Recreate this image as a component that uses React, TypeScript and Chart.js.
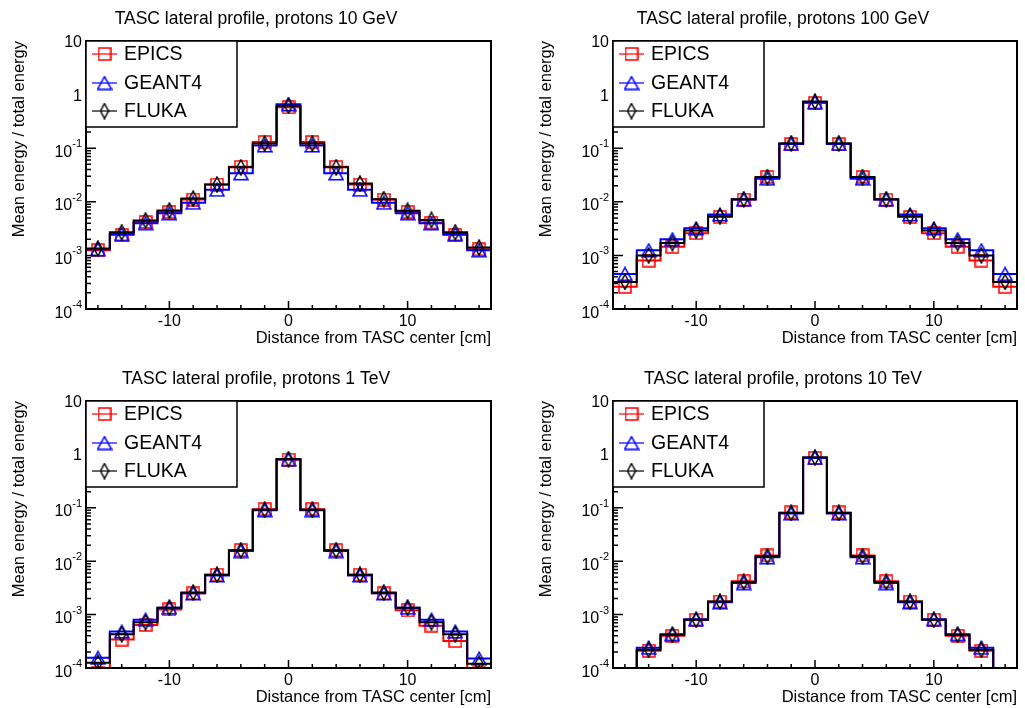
import React, { useEffect, useRef } from "react";
import { Chart, registerables } from "chart.js";
Chart.register(...registerables);

// ---------------- data ----------------
const BIN_CENTERS = [-16, -14, -12, -10, -8, -6, -4, -2, 0, 2, 4, 6, 8, 10, 12, 14, 16];
const BIN_HALF_WIDTH = 1;
const X_MIN = -17;
const X_MAX = 17;
const Y_MIN = 1e-4;
const Y_MAX = 10;
const X_MAJOR_TICKS = [-10, 0, 10];
const X_MINOR_TICKS = [-16, -14, -12, -8, -6, -4, -2, 2, 4, 6, 8, 12, 14, 16];
const X_TICK_LABELS = ["-10", "0", "10"];
const Y_DECADES = [1e-4, 1e-3, 1e-2, 1e-1, 1, 10];
const Y_TICK_BASES = ["10", "10", "10", "10", "1", "10"];
const Y_TICK_EXPS = ["-4", "-3", "-2", "-1", "", ""];
const SERIES_NAMES = ["EPICS", "GEANT4", "FLUKA"];
const SERIES_COLORS = ["#ff0000", "#0000ff", "#000000"];
const TITLES = [
  "TASC lateral profile, protons 10 GeV",
  "TASC lateral profile, protons 100 GeV",
  "TASC lateral profile, protons 1 TeV",
  "TASC lateral profile, protons 10 TeV",
];
const X_TITLE = "Distance from TASC center [cm]";
const Y_TITLE = "Mean energy / total energy";

// 10 GeV
const P1_EPICS = [1.25e-3, 2.4e-3, 4.2e-3, 6.5e-3, 0.011, 0.021, 0.045, 0.13, 0.58, 0.13, 0.045, 0.021, 0.011, 6.5e-3, 4.1e-3, 2.4e-3, 1.3e-3];
const P1_GEANT4 = [1.3e-3, 2.5e-3, 4.0e-3, 6.1e-3, 9.6e-3, 0.0168, 0.034, 0.112, 0.66, 0.112, 0.034, 0.0168, 9.6e-3, 6.1e-3, 4.0e-3, 2.5e-3, 1.25e-3];
const P1_FLUKA = [1.35e-3, 2.7e-3, 4.5e-3, 6.9e-3, 0.0115, 0.021, 0.044, 0.122, 0.62, 0.122, 0.044, 0.022, 0.0112, 6.8e-3, 4.6e-3, 2.7e-3, 1.4e-3];
// 100 GeV
const P2_EPICS = [2.6e-4, 8.0e-4, 1.45e-3, 2.6e-3, 5.2e-3, 0.011, 0.029, 0.12, 0.7, 0.12, 0.029, 0.011, 5.2e-3, 2.6e-3, 1.45e-3, 8.0e-4, 2.6e-4];
const P2_GEANT4 = [4.5e-4, 1.25e-3, 2.0e-3, 3.2e-3, 5.8e-3, 0.011, 0.027, 0.12, 0.72, 0.12, 0.027, 0.011, 5.8e-3, 3.2e-3, 2.0e-3, 1.25e-3, 4.5e-4];
const P2_FLUKA = [3.2e-4, 1.0e-3, 1.7e-3, 2.9e-3, 5.4e-3, 0.0112, 0.029, 0.124, 0.74, 0.124, 0.029, 0.0112, 5.4e-3, 2.9e-3, 1.7e-3, 1.0e-3, 3.2e-4];
// 1 TeV
const P3_EPICS = [8.0e-5, 3.4e-4, 6.4e-4, 1.25e-3, 2.5e-3, 5.6e-3, 0.016, 0.094, 0.8, 0.094, 0.016, 5.6e-3, 2.5e-3, 1.2e-3, 6.2e-4, 3.2e-4, 8.0e-5];
const P3_GEANT4 = [1.55e-4, 4.8e-4, 8.0e-4, 1.35e-3, 2.5e-3, 5.4e-3, 0.0155, 0.09, 0.8, 0.09, 0.0155, 5.4e-3, 2.5e-3, 1.35e-3, 8.0e-4, 4.8e-4, 1.5e-4];
const P3_FLUKA = [1.25e-4, 4.3e-4, 7.2e-4, 1.35e-3, 2.6e-3, 5.6e-3, 0.016, 0.092, 0.82, 0.092, 0.016, 5.6e-3, 2.6e-3, 1.35e-3, 7.2e-4, 4.3e-4, 1.2e-4];
// 10 TeV
const P4_EPICS = [0, 2.1e-4, 4.0e-4, 8.0e-4, 1.75e-3, 4.2e-3, 0.0128, 0.082, 0.86, 0.082, 0.0128, 4.2e-3, 1.75e-3, 8.0e-4, 4.0e-4, 2.1e-4, 0];
const P4_GEANT4 = [0, 2.4e-4, 4.3e-4, 8.2e-4, 1.7e-3, 3.9e-3, 0.0118, 0.078, 0.86, 0.078, 0.0118, 3.9e-3, 1.7e-3, 8.2e-4, 4.3e-4, 2.4e-4, 0];
const P4_FLUKA = [0, 2.2e-4, 4.2e-4, 8.0e-4, 1.75e-3, 4.1e-3, 0.0124, 0.08, 0.88, 0.08, 0.0124, 4.1e-3, 1.75e-3, 8.0e-4, 4.2e-4, 2.2e-4, 0];

const PANEL_SERIES = [
  [P1_EPICS, P1_GEANT4, P1_FLUKA],
  [P2_EPICS, P2_GEANT4, P2_FLUKA],
  [P3_EPICS, P3_GEANT4, P3_FLUKA],
  [P4_EPICS, P4_GEANT4, P4_FLUKA],
];

// ---------------- layout ----------------
const PANEL_BOXES = [
  { left: 0, top: 0, w: 512, h: 354, pad: { left: 86, right: 21, top: 41, bottom: 45 } },
  { left: 527, top: 0, w: 498, h: 354, pad: { left: 86, right: 7, top: 41, bottom: 45 } },
  { left: 0, top: 360, w: 512, h: 348, pad: { left: 86, right: 21, top: 41, bottom: 40 } },
  { left: 527, top: 360, w: 498, h: 348, pad: { left: 86, right: 7, top: 41, bottom: 40 } },
];

const FONT = "'Liberation Sans', Arial, Helvetica, sans-serif";

// ---------------- markers ----------------
let markerCache: HTMLCanvasElement[] | null = null;
function getMarkers(): HTMLCanvasElement[] {
  if (markerCache) return markerCache;
  const mk = (w: number, h: number, color: string, draw: (c: CanvasRenderingContext2D) => void) => {
    const c = document.createElement("canvas");
    c.width = w;
    c.height = h;
    const g = c.getContext("2d")!;
    g.strokeStyle = color;
    g.lineWidth = 1.5;
    g.lineJoin = "miter";
    draw(g);
    return c;
  };
  const square = mk(14, 14, SERIES_COLORS[0], (g) => g.strokeRect(1, 1, 12, 12));
  const tri = mk(16, 15, SERIES_COLORS[1], (g) => {
    g.beginPath();
    g.moveTo(8, 1.2);
    g.lineTo(15, 13.8);
    g.lineTo(1, 13.8);
    g.closePath();
    g.stroke();
  });
  const dia = mk(10, 17, SERIES_COLORS[2], (g) => {
    g.beginPath();
    g.moveTo(5, 1);
    g.lineTo(9, 8.5);
    g.lineTo(5, 16);
    g.lineTo(1, 8.5);
    g.closePath();
    g.stroke();
  });
  markerCache = [square, tri, dia];
  return markerCache;
}

// ---------------- plugin drawing ROOT-like frame ----------------
const rootStyle = {
  id: "rootStyle",
  beforeDraw(chart: any) {
    const { ctx, width, height } = chart;
    ctx.save();
    ctx.fillStyle = "#ffffff";
    ctx.fillRect(0, 0, width, height);
    ctx.restore();
  },
  afterDraw(chart: any, _args: any, opts: any) {
    const { ctx, chartArea: a } = chart;
    const x = chart.scales.x;
    const y = chart.scales.y;
    ctx.save();
    ctx.strokeStyle = "#000";
    ctx.fillStyle = "#000";

    // frame
    ctx.lineWidth = 2;
    ctx.strokeRect(a.left, a.top, a.right - a.left, a.bottom - a.top);

    // x ticks
    ctx.lineWidth = 1.5;
    ctx.beginPath();
    X_MINOR_TICKS.forEach((v) => {
      const px = x.getPixelForValue(v);
      ctx.moveTo(px, a.bottom);
      ctx.lineTo(px, a.bottom - 4);
    });
    X_MAJOR_TICKS.forEach((v) => {
      const px = x.getPixelForValue(v);
      ctx.moveTo(px, a.bottom);
      ctx.lineTo(px, a.bottom - 8);
    });
    // y ticks (log)
    for (let d = 0; d < Y_DECADES.length - 1; d++) {
      for (let k = 1; k <= 9; k++) {
        const v = Y_DECADES[d] * k;
        const py = y.getPixelForValue(v);
        ctx.moveTo(a.left, py);
        ctx.lineTo(a.left + (k === 1 ? 10 : 5), py);
      }
    }
    ctx.stroke();

    // x tick labels
    ctx.font = `16px ${FONT}`;
    ctx.textAlign = "center";
    ctx.textBaseline = "alphabetic";
    X_MAJOR_TICKS.forEach((v, i) => {
      ctx.fillText(X_TICK_LABELS[i], x.getPixelForValue(v), a.bottom + 17);
    });

    // y tick labels
    Y_DECADES.forEach((v, i) => {
      const py = y.getPixelForValue(v);
      const rx = a.left - 4;
      const exp = Y_TICK_EXPS[i];
      ctx.textAlign = "right";
      if (exp) {
        ctx.font = `11px ${FONT}`;
        const ew = ctx.measureText(exp).width;
        ctx.fillText(exp, rx, py - 1);
        ctx.font = `16px ${FONT}`;
        ctx.fillText(Y_TICK_BASES[i], rx - ew, py + 8.5);
      } else {
        ctx.font = `16px ${FONT}`;
        ctx.fillText(Y_TICK_BASES[i], rx, py + 6);
      }
    });

    // axis titles
    ctx.font = `16.5px ${FONT}`;
    ctx.textAlign = "right";
    ctx.fillText(X_TITLE, a.right, a.bottom + 34);
    ctx.save();
    ctx.translate(19.5, a.top);
    ctx.rotate(-Math.PI / 2);
    ctx.textBaseline = "middle";
    ctx.fillText(Y_TITLE, 0, 0);
    ctx.restore();

    // title
    ctx.font = `17.5px ${FONT}`;
    ctx.textAlign = "center";
    ctx.textBaseline = "alphabetic";
    ctx.fillText(opts.title, a.left + 170, a.top - 17);

    // legend
    const lx = a.left;
    const ly = a.top;
    const lw = 151;
    const lh = 86;
    ctx.fillStyle = "#fff";
    ctx.fillRect(lx, ly, lw, lh);
    ctx.strokeStyle = "#000";
    ctx.lineWidth = 1.5;
    ctx.strokeRect(lx, ly, lw, lh);
    const markers = getMarkers();
    const rows = [13, 42, 70];
    SERIES_NAMES.forEach((name, i) => {
      const cy = ly + rows[i];
      ctx.strokeStyle = SERIES_COLORS[i];
      ctx.lineWidth = 1.2;
      ctx.beginPath();
      ctx.moveTo(lx + 6, cy);
      ctx.lineTo(lx + 31, cy);
      ctx.stroke();
      const m = markers[i];
      ctx.drawImage(m, lx + 18.5 - m.width / 2, cy - m.height / 2);
      ctx.fillStyle = "#000";
      ctx.font = `19.5px ${FONT}`;
      ctx.textAlign = "left";
      ctx.textBaseline = "middle";
      ctx.fillText(name, lx + 38, cy + 1);
    });
    ctx.restore();
  },
};

function buildDatasets(series: number[][]) {
  const markers = getMarkers();
  const ds: any[] = [];
  series.forEach((vals, i) => {
    const floorV = (v: number) => (v > 0 ? v : Y_MIN);
    const hist = [
      { x: BIN_CENTERS[0] - BIN_HALF_WIDTH, y: floorV(vals[0]) },
      ...BIN_CENTERS.map((c, j) => ({ x: c, y: floorV(vals[j]) })),
      { x: BIN_CENTERS[BIN_CENTERS.length - 1] + BIN_HALF_WIDTH, y: floorV(vals[vals.length - 1]) },
    ];
    const pts = BIN_CENTERS.map((c, j) => ({ x: c, y: vals[j] > 0 ? vals[j] : null }));
    const base = (2 - i) * 2;
    ds.push({
      label: SERIES_NAMES[i] + " hist",
      data: hist,
      borderColor: SERIES_COLORS[i],
      borderWidth: 2,
      pointRadius: 0,
      stepped: "middle",
      fill: false,
      order: base + 1,
    });
    ds.push({
      label: SERIES_NAMES[i],
      data: pts,
      showLine: false,
      pointStyle: markers[i],
      pointRadius: 7,
      borderColor: SERIES_COLORS[i],
      backgroundColor: "transparent",
      order: base,
    });
  });
  return ds;
}

function Panel({ idx }: { idx: number }) {
  const ref = useRef<HTMLCanvasElement>(null);
  const box = PANEL_BOXES[idx];
  useEffect(() => {
    if (!ref.current) return;
    const chart = new Chart(ref.current, {
      type: "line",
      data: { datasets: buildDatasets(PANEL_SERIES[idx]) },
      options: {
        animation: false,
        responsive: false,
        devicePixelRatio: 1,
        events: [],
        layout: { padding: box.pad },
        scales: {
          x: { type: "linear", min: X_MIN, max: X_MAX, display: false },
          y: { type: "logarithmic", min: Y_MIN, max: Y_MAX, display: false },
        },
        plugins: {
          legend: { display: false },
          tooltip: { enabled: false },
          rootStyle: { title: TITLES[idx] },
        } as any,
      },
      plugins: [rootStyle as any],
    });
    return () => chart.destroy();
  }, [idx]);
  return (
    <canvas
      ref={ref}
      width={box.w}
      height={box.h}
      style={{ position: "absolute", left: box.left, top: box.top, width: box.w, height: box.h }}
    />
  );
}

export default function App() {
  return (
    <div style={{ position: "absolute", left: 0, top: 0, width: 1025, height: 708, background: "#fff", overflow: "hidden" }}>
      {[0, 1, 2, 3].map((i) => (
        <Panel key={i} idx={i} />
      ))}
    </div>
  );
}
